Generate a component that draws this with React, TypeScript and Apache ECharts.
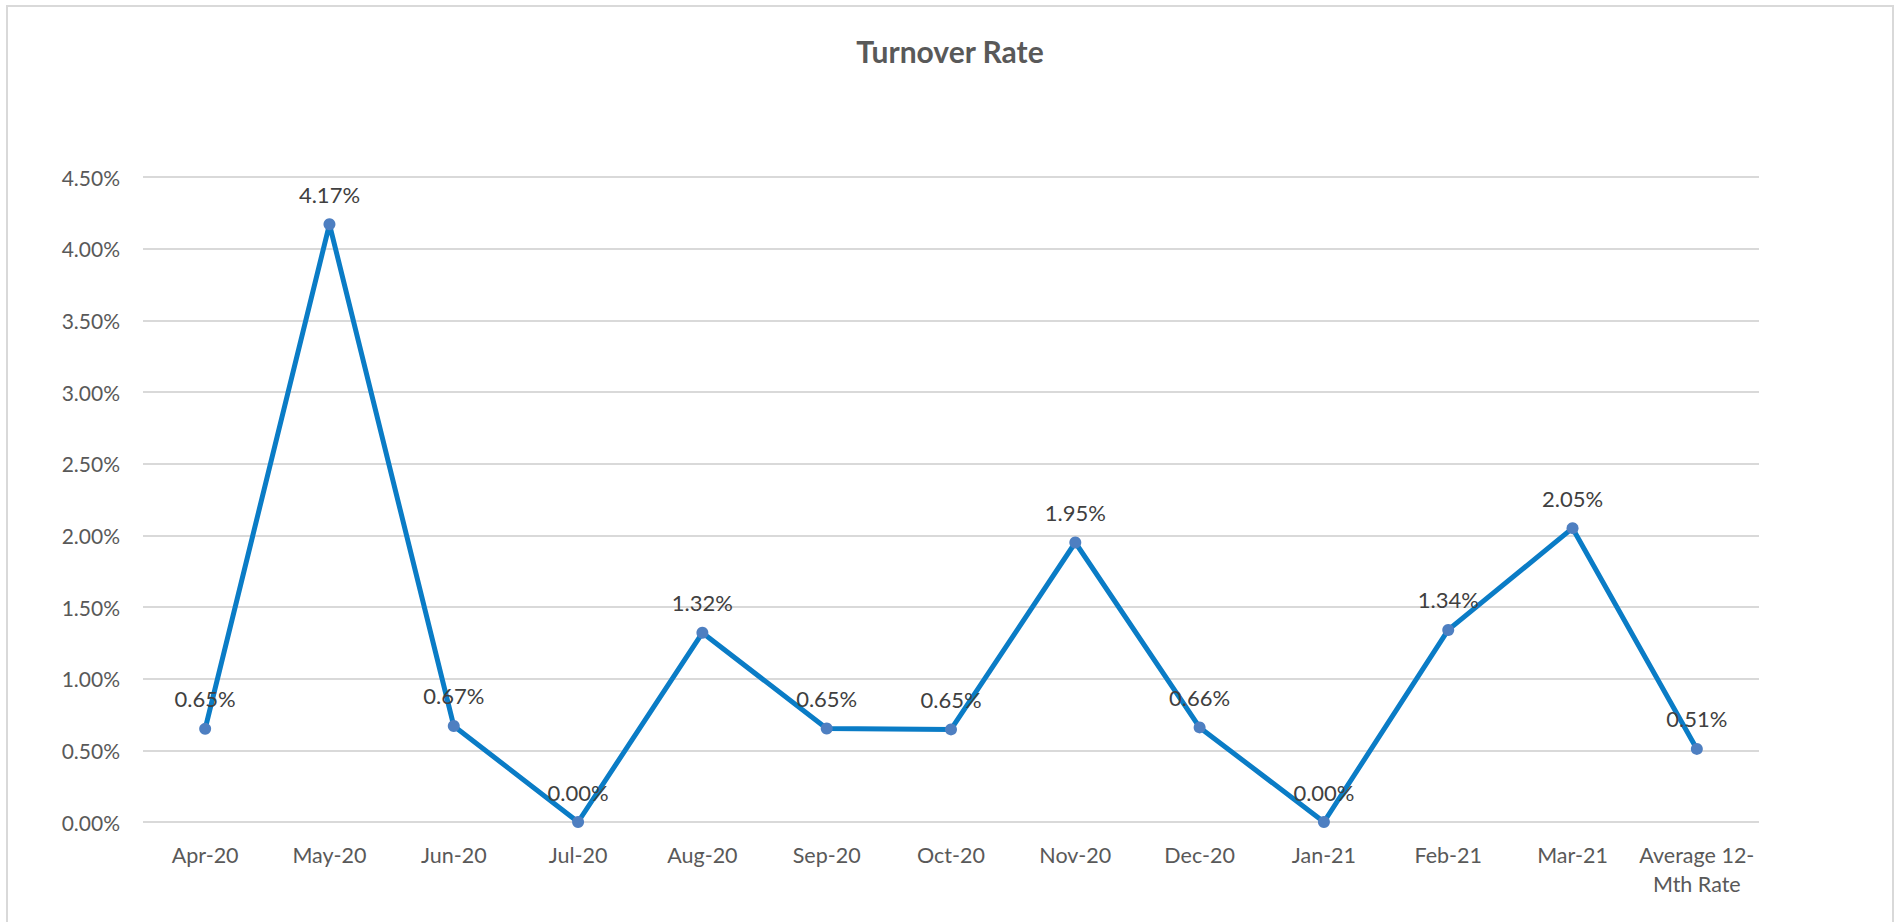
import React, { useEffect, useRef } from "react";
import * as echarts from "echarts";

const categories = [
  "Apr-20", "May-20", "Jun-20", "Jul-20", "Aug-20", "Sep-20", "Oct-20",
  "Nov-20", "Dec-20", "Jan-21", "Feb-21", "Mar-21", "Average 12-Mth Rate",
];
// turnover rate in percent
const turnoverRate = [0.65, 4.17, 0.67, 0.0, 1.32, 0.652, 0.646, 1.95, 0.66, 0.0, 1.34, 2.05, 0.51];
const chartTitle = "Turnover Rate";
const yMin = 0;
const yMax = 4.5;
const yStep = 0.5;

const FONT = "Lato, 'Open Sans', sans-serif";

export default function App() {
  const ref = useRef<HTMLDivElement>(null);
  useEffect(() => {
    document.body.style.margin = "0";
    const chart = echarts.init(ref.current!, null, { renderer: "svg" });
    chart.setOption({
      animation: false,
      backgroundColor: "#ffffff",
      textStyle: { fontFamily: FONT },
      title: {
        text: chartTitle,
        left: "center",
        top: 29,
        textStyle: {
          fontFamily: FONT,
          fontSize: 30,
          fontWeight: "bold",
          color: "#595959",
          lineHeight: 34,
        },
      },
      graphic: [
        {
          type: "rect",
          shape: { x: 7, y: 6, width: 1886, height: 922 },
          style: { fill: "none", stroke: "#d9d9d9", lineWidth: 2 },
          silent: true,
        },
      ],
      grid: { left: 143, right: 141, top: 177, bottom: 100, containLabel: false },
      xAxis: {
        type: "category",
        data: categories,
        boundaryGap: true,
        axisLine: { show: false },
        axisTick: { show: false },
        axisLabel: {
          interval: 0,
          margin: 18,
          fontFamily: FONT,
          fontSize: 21.5,
          lineHeight: 29,
          color: "#595959",
          formatter: (v: string) => v.replace("12-", "12-\n"),
        },
        splitLine: { show: false },
      },
      yAxis: {
        type: "value",
        min: yMin,
        max: yMax,
        interval: yStep,
        axisLine: { show: false },
        axisTick: { show: false },
        axisLabel: {
          margin: 23,
          fontFamily: FONT,
          fontSize: 21,
          color: "#595959",
          formatter: (v: number) => v.toFixed(2) + "%",
        },
        splitLine: { lineStyle: { color: "#d9d9d9", width: 2 } },
      },
      series: [
        {
          type: "line",
          data: turnoverRate,
          symbol: "circle",
          symbolSize: 12,
          lineStyle: { color: "#0a7cc6", width: 5 },
          itemStyle: { color: "#4e7fc1" },
          z: 3,
          label: {
            show: true,
            position: "top",
            distance: 12,
            fontFamily: FONT,
            fontSize: 22,
            lineHeight: 24,
            color: "#404040",
            formatter: (p: any) => Number(p.value).toFixed(2) + "%",
          },
        },
      ],
    });
    return () => chart.dispose();
  }, []);
  return <div ref={ref} style={{ width: 1900, height: 922 }} />;
}
